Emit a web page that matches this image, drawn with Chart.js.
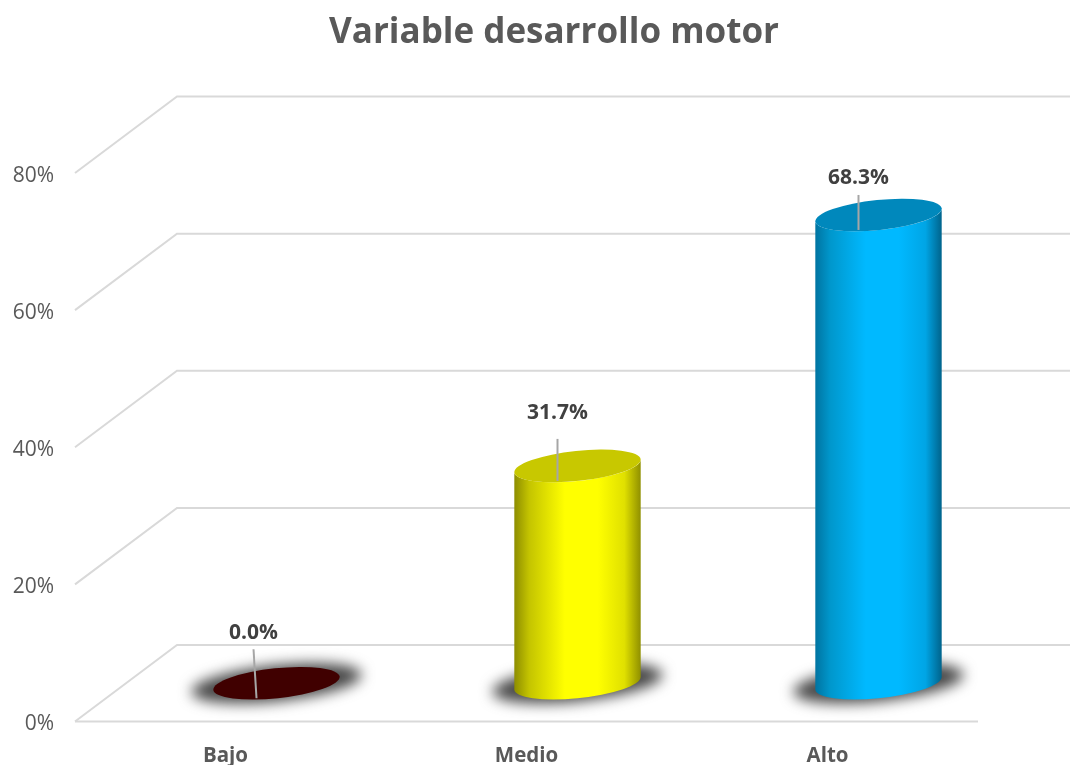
<!DOCTYPE html>
<html>
<head>
<meta charset="utf-8">
<title>Variable desarrollo motor</title>
<script src="https://cdn.jsdelivr.net/npm/chart.js@4/dist/chart.umd.min.js"></script>
<style>
    html, body { margin: 0; padding: 0; background: #fff; }
    #wrap { width: 1070px; height: 765px; }
</style>
</head>
<body>
<div id="wrap"><canvas id="grafico"></canvas></div>
<script>
// Datos
const categorias = ['Bajo', 'Medio', 'Alto'];
const valores = [0.0, 31.7, 68.3];
const ticksY = [0, 20, 40, 60, 80];

// Colores de cada cilindro
const coloresTapa = ['#400000', '#C8C800', '#0088BC'];
const coloresLuz = ['#6a0000', '#FFFF00', '#00B9FF'];
const coloresBordeIzq = ['#300000', '#8C8C00', '#0073A0'];
const coloresMedioIzq = ['#400000', '#C4C400', '#0097CC'];
const coloresMedioDer = ['#400000', '#E0E000', '#00A5E5'];
const coloresBordeDer = ['#300000', '#8E8E00', '#00628A'];

// Linea guia de cada etiqueta, medida desde el frente de la tapa
const largoGuia = [49, 42, 35];
const inclinaGuia = [-3, 0, 0];
const separaEtiqueta = [17, 27, 18];

// Profundidad del piso 3D
const FONDO_X = 102;
const FONDO_Y = -76.5;
const GIRO = -6 * Math.PI / 180;
const RADIO_Y = 15;

const pisoYParedes = {
    id: 'pisoYParedes',
    // El titulo va algo a la derecha del centro del area
    afterLayout(chart) {
        chart.titleBlock.left += 65;
        chart.titleBlock.right += 65;
    },
    beforeDatasetsDraw(chart) {
        const { ctx, chartArea, scales } = chart;
        ctx.save();
        ctx.strokeStyle = '#D9D9D9';
        ctx.lineWidth = 2;
        ticksY.forEach(t => {
            const y = scales.y.getPixelForValue(t);
            ctx.beginPath();
            ctx.moveTo(chartArea.left, y);
            ctx.lineTo(chartArea.left + FONDO_X, y + FONDO_Y);
            ctx.lineTo(chart.width, y + FONDO_Y);
            ctx.stroke();
        });
        const y0 = scales.y.getPixelForValue(0);
        ctx.beginPath();
        ctx.moveTo(chartArea.left, y0);
        ctx.lineTo(chartArea.right, y0);
        ctx.stroke();
        ctx.restore();
    }
};

function dibujarCilindro(ctx, barra, i) {
    const cx = barra.x + FONDO_X / 2;
    const yTapa = barra.y + FONDO_Y / 2;
    const yBase = barra.base + FONDO_Y / 2;
    const a = barra.width / 2;
    const t0 = Math.atan(-(RADIO_Y / a) * Math.tan(GIRO));

    // Sombra difusa sobre el piso
    ctx.save();
    ctx.filter = 'blur(7px)';
    ctx.fillStyle = 'rgb(70,70,70)';
    ctx.beginPath();
    ctx.ellipse(cx, yBase, a + 22, RADIO_Y + 3, GIRO, 0, Math.PI * 2);
    ctx.fill();
    ctx.restore();

    // Cuerpo con degradado horizontal
    if (yBase - yTapa > 1) {
        const g = ctx.createLinearGradient(cx - a, 0, cx + a, 0);
        g.addColorStop(0, coloresBordeIzq[i]);
        g.addColorStop(0.12, coloresMedioIzq[i]);
        g.addColorStop(0.4, coloresLuz[i]);
        g.addColorStop(0.66, coloresLuz[i]);
        g.addColorStop(0.87, coloresMedioDer[i]);
        g.addColorStop(1, coloresBordeDer[i]);
        ctx.fillStyle = g;
        ctx.beginPath();
        ctx.ellipse(cx, yBase, a, RADIO_Y, GIRO, t0, t0 + Math.PI);
        ctx.ellipse(cx, yTapa, a, RADIO_Y, GIRO, t0 + Math.PI, t0, true);
        ctx.closePath();
        ctx.fill();
    }

    // Tapa
    ctx.fillStyle = coloresTapa[i];
    ctx.beginPath();
    ctx.ellipse(cx, yTapa, a, RADIO_Y, GIRO, 0, Math.PI * 2);
    ctx.fill();
}

const cilindros = {
    id: 'cilindros',
    afterDatasetsDraw(chart) {
        const { ctx } = chart;
        const barras = chart.getDatasetMeta(0).data;
        barras.forEach((barra, i) => dibujarCilindro(ctx, barra, i));

        // Guias y etiquetas de valor
        barras.forEach((barra, i) => {
            const xGuia = barra.x + FONDO_X / 2 - 20;
            const yFrente = barra.y + FONDO_Y / 2 + 15;
            const yArriba = yFrente - largoGuia[i];
            ctx.save();
            ctx.strokeStyle = '#A6A6A6';
            ctx.lineWidth = 2;
            ctx.beginPath();
            ctx.moveTo(xGuia, yFrente);
            ctx.lineTo(xGuia + inclinaGuia[i], yArriba);
            ctx.stroke();
            ctx.fillStyle = '#404040';
            ctx.font = 'bold 21px "Open Sans"';
            ctx.textAlign = 'center';
            ctx.textBaseline = 'middle';
            ctx.fillText(valores[i].toFixed(1) + '%', xGuia + inclinaGuia[i], yArriba - separaEtiqueta[i] + 1);
            ctx.restore();
        });
    }
};

new Chart(document.getElementById('grafico'), {
    type: 'bar',
    data: {
        labels: categorias,
        datasets: [{
            label: 'Variable desarrollo motor',
            data: valores,
            backgroundColor: 'rgba(0,0,0,0)',
            categoryPercentage: 1,
            barPercentage: 0.422
        }]
    },
    options: {
        responsive: true,
        maintainAspectRatio: false,
        animation: false,
        layout: { padding: { right: 92 } },
        plugins: {
            legend: { display: false },
            tooltip: { enabled: false },
            title: {
                display: true,
                text: 'Variable desarrollo motor',
                color: '#595959',
                font: { family: '"Open Sans"', size: 35, weight: 'bold' },
                padding: { top: 12, bottom: 119 }
            }
        },
        scales: {
            x: {
                grid: { display: false },
                border: { display: false },
                ticks: {
                    color: '#595959',
                    padding: 14,
                    font: { family: '"Open Sans"', size: 20.5, weight: 'bold' }
                },
                afterFit(scale) { scale.height = 43.5; }
            },
            y: {
                min: 0,
                max: 80,
                grid: { display: false },
                border: { display: false },
                afterBuildTicks(scale) { scale.ticks = ticksY.map(v => ({ value: v })); },
                ticks: {
                    color: '#595959',
                    padding: 13,
                    labelOffset: 3,
                    font: { family: '"Open Sans"', size: 21 },
                    callback: v => v + '%'
                },
                afterFit(scale) { scale.width = 75; }
            }
        }
    },
    plugins: [pisoYParedes, cilindros]
});
</script>
</body>
</html>
